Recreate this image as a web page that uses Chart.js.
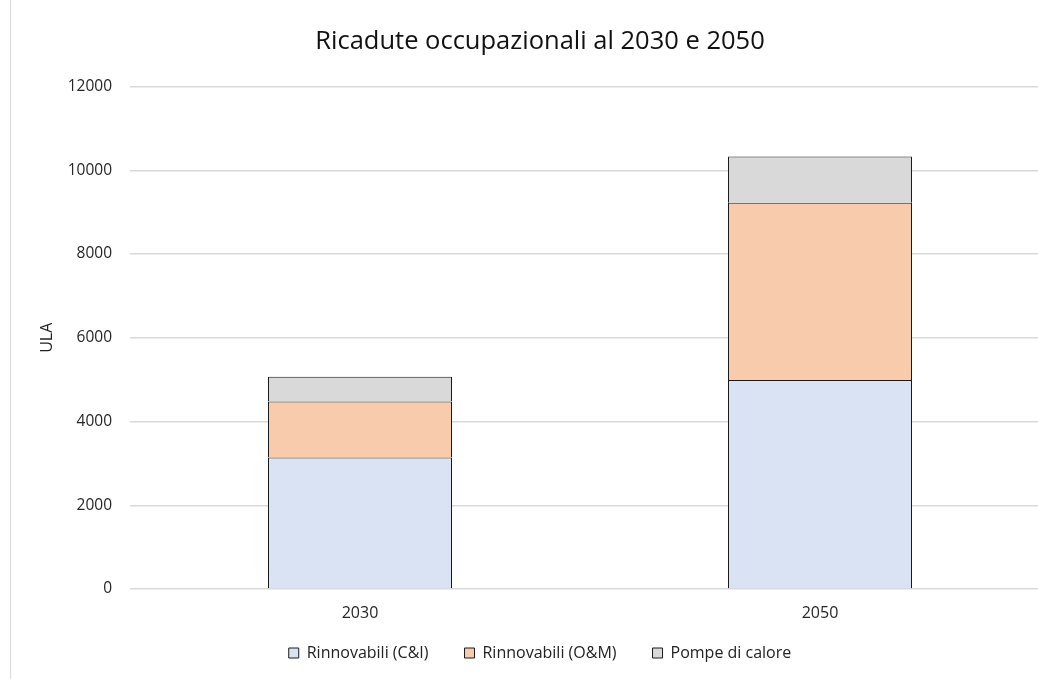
<!DOCTYPE html>
<html>
<head>
<meta charset="utf-8">
<script src="https://cdn.jsdelivr.net/npm/chart.js@4/dist/chart.umd.min.js"></script>
<style>
    html, body { margin: 0; padding: 0; background: #fff; overflow: hidden; }
    #wrap { position: relative; width: 1038px; height: 679px; overflow: hidden; }
    #bordo { position: absolute; left: 10px; top: 0; width: 1px; height: 679px; background: #d9d9d9; }
    #grafico { position: absolute; left: 0; top: 0; }
</style>
</head>
<body>
<div id="wrap">
    <div id="bordo"></div>
    <canvas id="grafico" width="1050" height="679"></canvas>
</div>
<script>
// ------------------------------------------
// Dati
// ------------------------------------------
const anni = ["2030", "2050"];
const rinnovabiliCI = [3140, 4990];
const rinnovabiliOM = [1340, 4235];
const pompeCalore = [590, 1105];

const yTicks = [0, 2000, 4000, 6000, 8000, 10000, 12000];

const FONT = "'Open Sans', 'Noto Sans', sans-serif";

// legenda un po' più in alto, senza toccare l'area del grafico
const spostaLegenda = {
    id: "spostaLegenda",
    afterLayout(chart) {
        chart.legend.top -= 16;
        chart.legend.bottom -= 16;
    }
};

// -------------------------------------------------
//  GRAFICO
// -------------------------------------------------
const ctx = document.getElementById("grafico");

new Chart(ctx, {
    type: "bar",
    data: {
        labels: anni,
        datasets: [
            {
                label: "Rinnovabili (C&I)",
                data: rinnovabiliCI,
                backgroundColor: "#dae3f3",
                borderColor: "#1a1a1a",
                borderWidth: 1
            },
            {
                label: "Rinnovabili (O&M)",
                data: rinnovabiliOM,
                backgroundColor: "#f8cbad",
                borderColor: "#1a1a1a",
                borderWidth: 1
            },
            {
                label: "Pompe di calore",
                data: pompeCalore,
                backgroundColor: "#d9d9d9",
                borderColor: "#1a1a1a",
                borderWidth: 1
            }
        ]
    },
    plugins: [spostaLegenda],
    options: {
        responsive: false,
        animation: false,
        devicePixelRatio: 1,
        layout: { padding: { left: 30, right: 0, top: 0, bottom: -8 } },
        datasets: {
            bar: { barPercentage: 0.4, categoryPercentage: 1 }
        },
        plugins: {
            title: {
                display: true,
                text: "Ricadute occupazionali al 2030 e 2050",
                color: "#111",
                font: { family: FONT, size: 25.5, weight: "normal" },
                padding: { top: 26, bottom: 30 }
            },
            legend: {
                position: "bottom",
                labels: {
                    boxWidth: 10,
                    boxHeight: 10,
                    padding: 36,
                    color: "#222",
                    font: { family: FONT, size: 16 }
                }
            },
            tooltip: { enabled: false }
        },
        scales: {
            x: {
                stacked: true,
                afterFit: scale => { scale.height = 36; },
                grid: { display: false, drawTicks: false },
                border: { display: false },
                ticks: {
                    color: "#262626",
                    padding: 15,
                    font: { family: FONT, size: 16 }
                }
            },
            y: {
                stacked: true,
                min: 0,
                max: 12000,
                afterBuildTicks: scale => {
                    scale.ticks = yTicks.map(v => ({ value: v }));
                },
                afterFit: scale => { scale.width = 100; },
                grid: { color: "#d9d9d9", lineWidth: 1.5, drawTicks: false },
                border: { display: false },
                ticks: {
                    color: "#262626",
                    padding: 18,
                    font: { family: FONT, size: 15.5 },
                    callback: v => String(v)
                },
                title: {
                    display: true,
                    text: "ULA",
                    color: "#222",
                    padding: { top: 8, bottom: 0 },
                    font: { family: FONT, size: 16 }
                }
            }
        }
    }
});
</script>
</body>
</html>
